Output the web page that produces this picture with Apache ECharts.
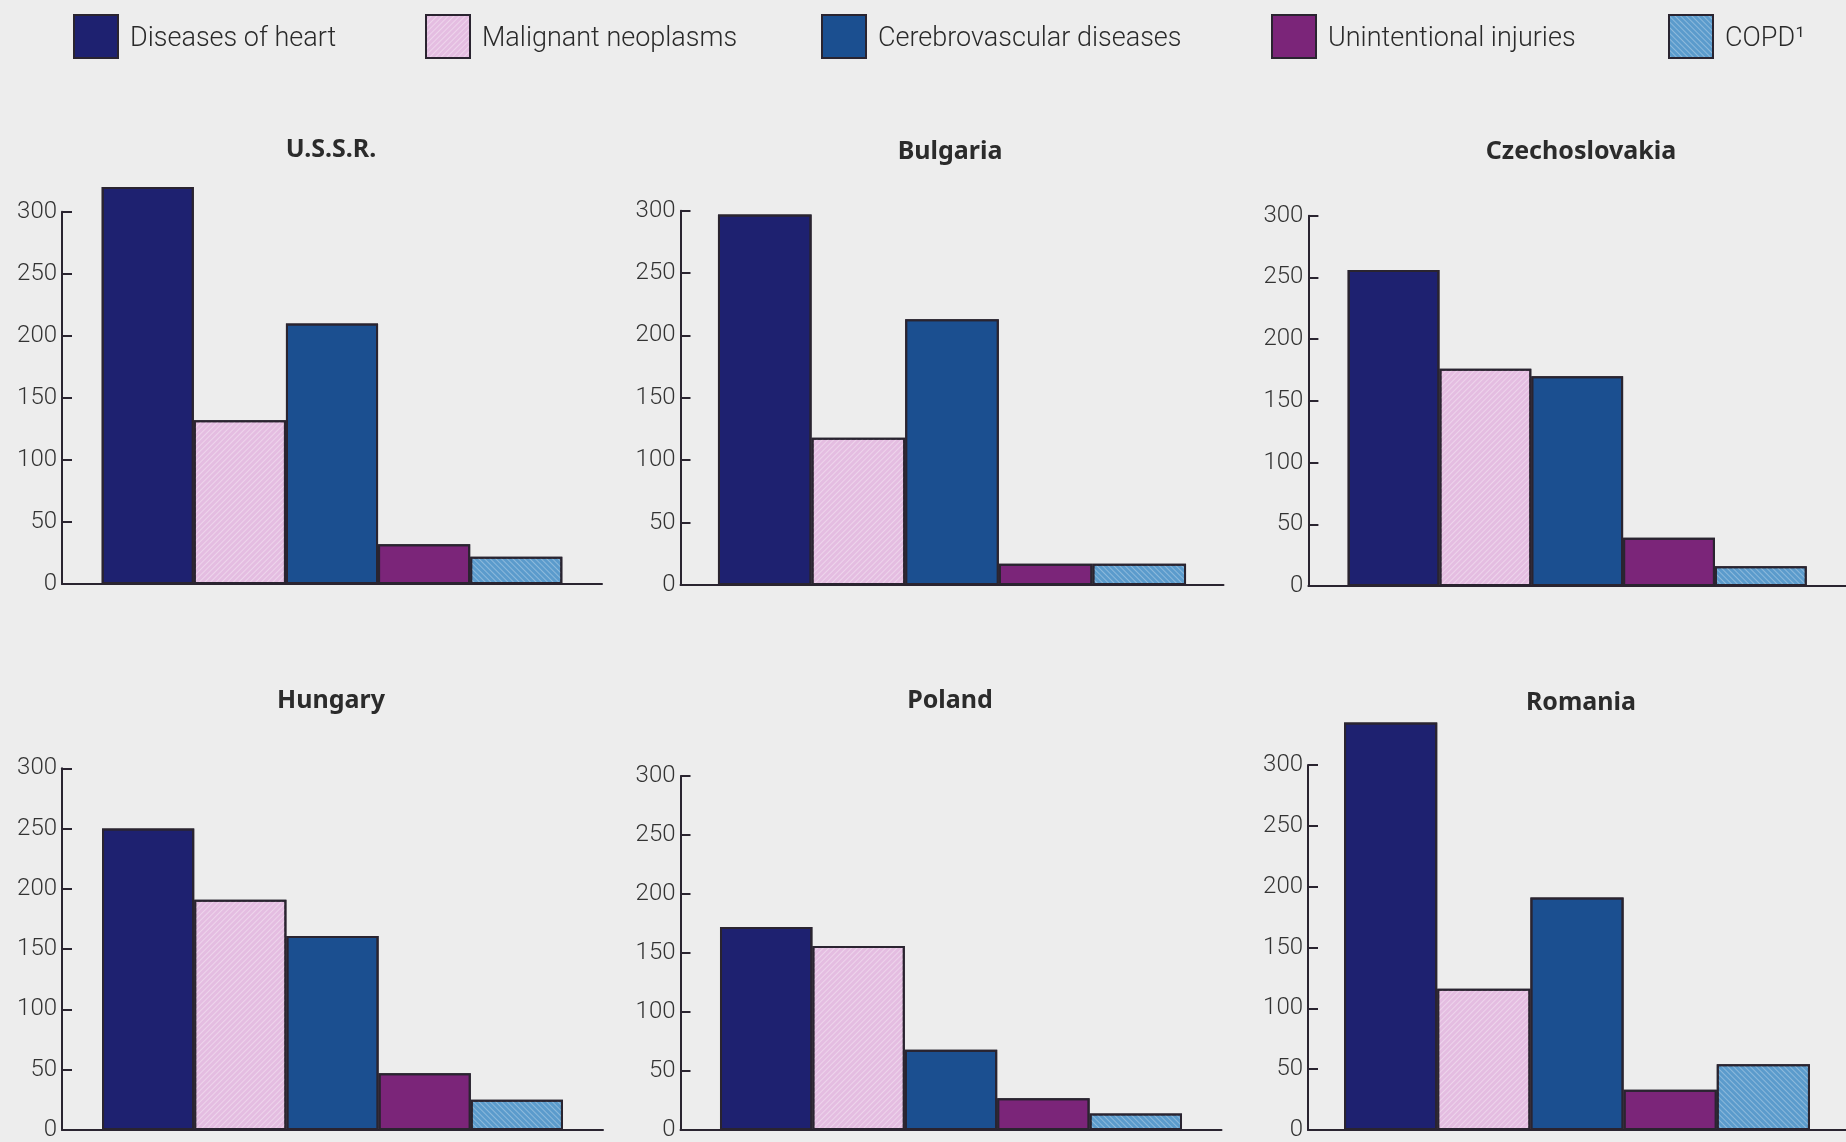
<!DOCTYPE html>
<html>
<head>
<meta charset="utf-8">
<script src="https://cdn.jsdelivr.net/npm/echarts@6/dist/echarts.min.js"></script>
<style>
html,body{margin:0;padding:0;background:#ededed;}
#main{width:1846px;height:1142px;}
</style>
</head>
<body>
<div id="main"></div>
<script>
// ---- data ----
var countries = ['U.S.S.R.', 'Bulgaria', 'Czechoslovakia', 'Hungary', 'Poland', 'Romania'];
var causes = ['Diseases of heart', 'Malignant neoplasms', 'Cerebrovascular diseases', 'Unintentional injuries', 'COPD'];
var heart      = [320, 297, 256, 250, 172, 335];
var malignant  = [132, 118, 176, 191, 156, 116];
var cerebro    = [210, 213, 170, 161, 68, 191];
var injuries   = [32, 17, 39, 47, 27, 33];
var copd       = [22, 17, 16, 25, 14, 54];
var yTicks     = [0, 50, 100, 150, 200, 250, 300];

// ---- styles ----
var seriesValues = [heart, malignant, cerebro, injuries, copd];
var colors = ['#1e2170', '#e4bde1', '#1b4f90', '#7b2579', '#5b9bcc'];
var noDecal = {symbol:'rect', symbolSize:1, dashArrayX:[1,0], dashArrayY:[1,0], color:'rgba(0,0,0,0)'};
var hatch = [noDecal,
  {symbol:'rect', symbolSize:1, dashArrayX:[1,0], dashArrayY:[1,3], rotation:-Math.PI/4, color:'rgba(255,255,255,0.35)'},
  noDecal, noDecal,
  {symbol:'rect', symbolSize:1, dashArrayX:[1,0], dashArrayY:[1,3], rotation:Math.PI/4, color:'rgba(255,255,255,0.3)'}];
var edge = '#2a2430';
var fontLight = "Roboto, 'Noto Sans', sans-serif";
var fontBold = "'Noto Sans', Roboto, sans-serif";

var grids = [
  {left:62,    top:211.7, width:540,   height:372.3, gap:'14.7%'},
  {left:680.5, top:210.7, width:543,   height:374.3, gap:'13.8%'},
  {left:1308.4,top:215.7, width:542,   height:370.3, gap:'14.6%'},
  {left:62,    top:768.3, width:541,   height:365.7, gap:'14.8%'},
  {left:680.5, top:776,   width:541,   height:360,   gap:'14.6%'},
  {left:1308,  top:765,   width:546,   height:371,   gap:'13.4%'}
];
var titlePos = [
  {x:331, y:137}, {x:950, y:139}, {x:1581, y:139},
  {x:331, y:688}, {x:950, y:688}, {x:1581, y:690}
];
var legendLeft = [68, 420, 816, 1266, 1663];

var option = {
  backgroundColor: '#ededed',
  animation: false,
  aria: {enabled: true, decal: {show: true}},
  title: countries.map(function(c, i){
    return {text: c, left: titlePos[i].x, top: titlePos[i].y, textAlign: 'center', padding: 0,
      textStyle: {fontFamily: fontBold, fontWeight: 'bold', fontSize: 25, color: '#2b2b2b'}};
  }),
  legend: causes.map(function(name, i){
    return {data: [name], left: legendLeft[i], top: 9, itemWidth: 44, itemHeight: 43,
      icon: 'rect', selectedMode: false,
      itemStyle: {borderColor: edge, borderWidth: 2},
      formatter: function(n){ return '{t|' + (n === 'COPD' ? 'COPD\u00b9' : n) + '}'; },
      textStyle: {fontFamily: fontLight, fontWeight: 300, fontSize: 27, color: '#2a2a2a',
        rich: {t: {fontFamily: fontLight, fontWeight: 300, fontSize: 27, color: '#2a2a2a', padding: [6, 0, 0, 7]}}}};
  }),
  grid: grids.map(function(g){
    return {left: g.left, top: g.top, width: g.width, height: g.height, containLabel: false};
  }),
  xAxis: countries.map(function(c, i){
    return {type: 'category', gridIndex: i, data: [c],
      axisLine: {show: true, lineStyle: {color: edge, width: 2}},
      axisTick: {show: false}, axisLabel: {show: false}, splitLine: {show: false}};
  }),
  yAxis: countries.map(function(c, i){
    return {type: 'value', gridIndex: i, min: yTicks[0], max: yTicks[yTicks.length-1],
      interval: yTicks[1] - yTicks[0],
      axisLine: {show: true, lineStyle: {color: edge, width: 2}},
      axisTick: {show: true, inside: true, length: 10, lineStyle: {color: edge, width: 2}},
      axisLabel: {margin: 5, fontFamily: fontLight, fontWeight: 300, fontSize: 24, color: '#333'},
      splitLine: {show: false}};
  }),
  series: []
};

countries.forEach(function(c, i){
  causes.forEach(function(name, k){
    option.series.push({
      type: 'bar', name: name, xAxisIndex: i, yAxisIndex: i,
      data: [seriesValues[k][i]],
      clip: false,
      barGap: '0%', barCategoryGap: grids[i].gap,
      itemStyle: {color: colors[k], borderColor: edge, borderWidth: 2, decal: hatch[k]}
    });
  });
});

var chart = echarts.init(document.getElementById('main'), null, {renderer: 'canvas'});
chart.setOption(option);
</script>
</body>
</html>
